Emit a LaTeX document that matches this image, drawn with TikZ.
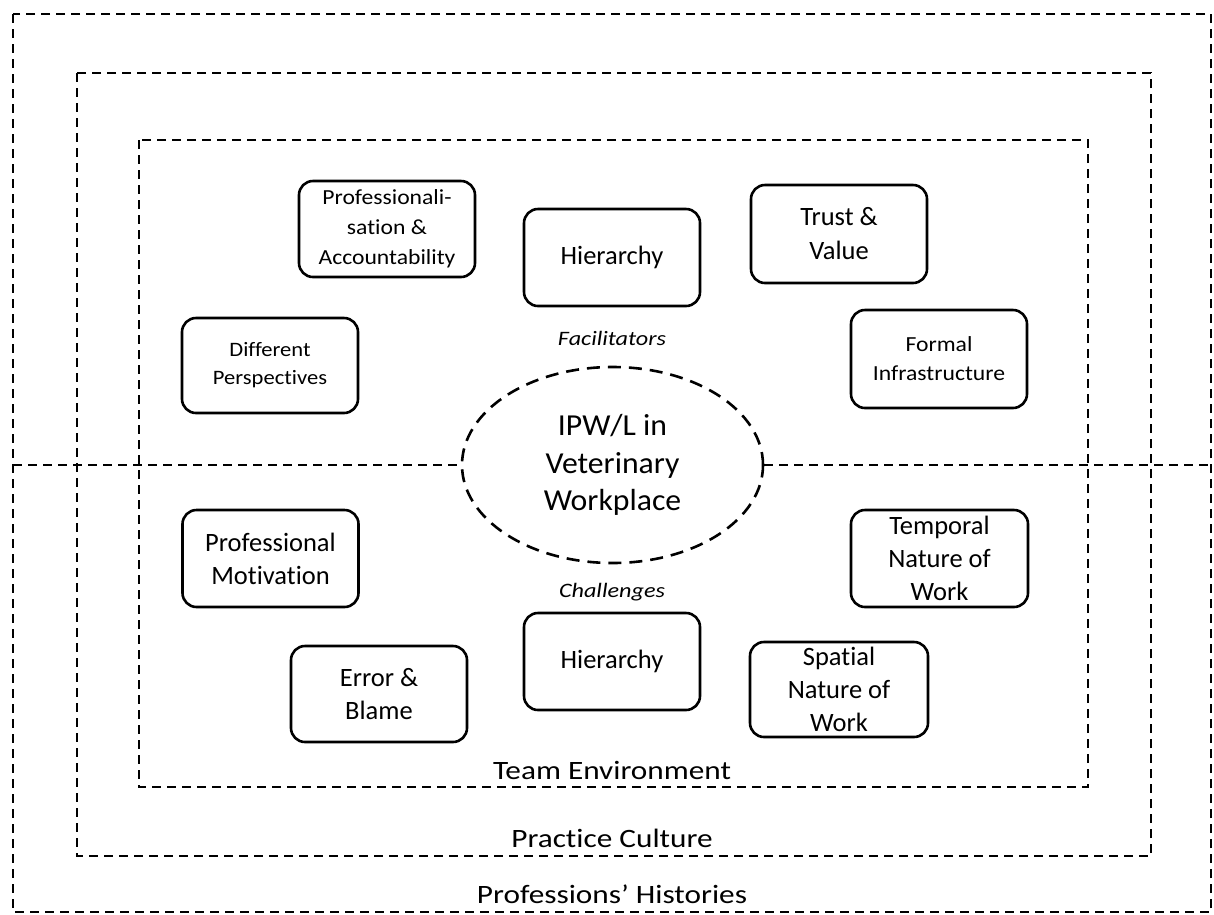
\documentclass[tikz,border=0pt]{standalone}
\usepackage{fontspec}
\setmainfont{Carlito}[Ligatures=NoCommon]
\newfontfamily\labfont{Carlito}[Ligatures=NoCommon, FakeStretch=1.18]
\newfontfamily\smallfont{Carlito}[Ligatures=NoCommon, FakeStretch=1.1]
\newfontfamily\corefont{Carlito}[Ligatures=NoCommon, FakeStretch=1.04]
\usetikzlibrary{shapes.geometric}
\begin{document}
\begin{tikzpicture}[x=1pt,y=-1pt,
  frame/.style={draw, line width=2.2pt, dash pattern=on 9pt off 6pt},
  factor/.style={draw, line width=2.6pt, rounded corners=14pt, minimum width=176pt, minimum height=96pt, inner sep=0pt, align=center},
  big/.style={font=\fontsize{26.5}{33}\selectfont},
  small/.style={font=\smallfont\fontsize{21.5}{29}\selectfont},
  lab/.style={font=\labfont\fontsize{26.5}{32}\selectfont, inner sep=0pt},
  tag/.style={font=\labfont\fontsize{20.5}{24}\selectfont\itshape, inner sep=0pt},
]
\useasboundingbox (0,0) rectangle (1214,914);
% nested frames
\draw[frame] (13,14) rectangle (1211,912);
\draw[frame] (77,73) rectangle (1151,856);
\draw[frame] (139,140) rectangle (1088,787);
% core
\node[ellipse, draw, line width=2.6pt, dash pattern=on 13pt off 8pt, minimum width=301pt, minimum height=196pt, inner sep=0pt, align=center, font=\corefont\fontsize{30.5}{37.5}\selectfont] (core) at (612.5,465) {IPW/L in\\Veterinary\\Workplace};
\coordinate (L) at (13,465);
\coordinate (R) at (1214,465);
\draw[frame] (L) -- (core.west);
\draw[frame] (core.east) -- (R);
% facilitators
\node[factor, small, font=\smallfont\fontsize{21.5}{30}\selectfont] (prof) at (387,229) {Professionali-\\sation \&\\Accountability};
\node[factor, big, minimum height=97pt] (hierT) at (612,257.5) {Hierarchy};
\node[factor, big, minimum height=98pt, font=\fontsize{26.5}{34}\selectfont] (trust) at (839,234) {Trust \&\\Value};
\node[factor, small, minimum height=95pt, font=\smallfont\fontsize{20.5}{28}\selectfont] (diff) at (270,365.5) {Different\\Perspectives};
\node[factor, small, minimum height=98pt] (formal) at (939,359) {Formal\\Infrastructure};
% challenges
\node[factor, big, minimum height=97pt] (motiv) at (270.5,558.5) {Professional\\Motivation};
\node[factor, big] (error) at (379,694) {Error \&\\Blame};
\node[factor, big, minimum height=97pt] (hierB) at (612,661.5) {Hierarchy};
\node[factor, big, minimum width=177pt, minimum height=97pt] (temporal) at (939.5,558.5) {Temporal\\Nature of\\Work};
\node[factor, big, minimum width=178pt, minimum height=95pt] (spatial) at (839,689.5) {Spatial\\Nature of\\Work};
% labels
\node[tag] (fac) at (612,338) {Facilitators};
\node[tag] (cha) at (612,592) {Challenges};
\node[lab] (team) at (612,770) {Team Environment};
\node[lab] (prac) at (612,838) {Practice Culture};
\node[lab] (hist) at (612,894) {Professions’ Histories};
\end{tikzpicture}
\end{document}
